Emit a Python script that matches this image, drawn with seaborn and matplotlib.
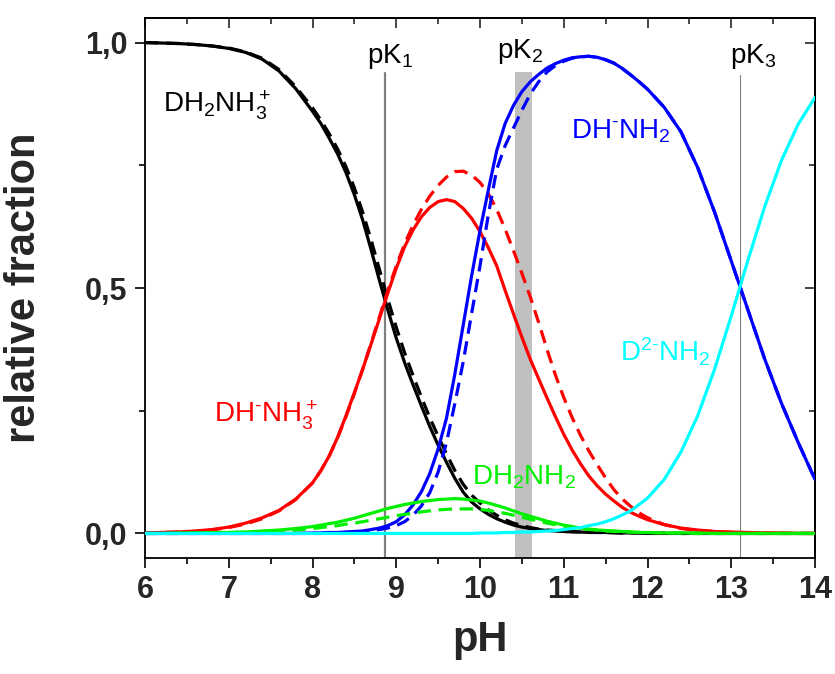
import numpy as np
import pandas as pd
import matplotlib
matplotlib.use("Agg")
import matplotlib.pyplot as plt
from matplotlib.ticker import MultipleLocator, FixedLocator
import seaborn as sns

# ---------------- data ----------------
pH = [6.0, 6.2, 6.4, 6.6, 6.8, 7.0, 7.2, 7.4, 7.6, 7.8,
      8.0, 8.1, 8.2, 8.3, 8.4, 8.5, 8.6, 8.7, 8.8, 8.9,
      9.0, 9.1, 9.2, 9.3, 9.4, 9.5, 9.6, 9.7, 9.8, 9.9,
      10.0, 10.1, 10.2, 10.3, 10.4, 10.5, 10.6, 10.7, 10.8, 10.9,
      11.0, 11.1, 11.2, 11.3, 11.4, 11.5, 11.6, 11.7, 11.8, 11.9,
      12.0, 12.2, 12.4, 12.6, 12.8, 13.0, 13.2, 13.4, 13.6, 13.8, 14.0]

black_solid = [1.000, 0.999, 0.998, 0.996, 0.993, 0.988, 0.980, 0.966, 0.942, 0.906,
               0.860, 0.835, 0.805, 0.773, 0.735, 0.690, 0.638, 0.578, 0.515, 0.455,
               0.398, 0.348, 0.303, 0.260, 0.218, 0.180, 0.145, 0.112, 0.084, 0.064,
               0.050, 0.039, 0.030, 0.023, 0.017, 0.013, 0.010, 0.008, 0.006, 0.005,
               0.004, 0.003, 0.003, 0.002, 0.002, 0.002, 0.001, 0.001, 0.001, 0.001,
               0.000, 0.000, 0.000, 0.000, 0.000, 0.000, 0.000, 0.000, 0.000, 0.000, 0.000]
black_dash = [1.000, 0.999, 0.998, 0.996, 0.993, 0.989, 0.981, 0.968, 0.945, 0.910,
              0.867, 0.842, 0.814, 0.783, 0.747, 0.704, 0.654, 0.598, 0.537, 0.477,
              0.420, 0.368, 0.322, 0.278, 0.236, 0.198, 0.162, 0.128, 0.100, 0.078,
              0.062, 0.048, 0.037, 0.028, 0.021, 0.016, 0.012, 0.009, 0.007, 0.006,
              0.005, 0.004, 0.003, 0.003, 0.002, 0.002, 0.002, 0.001, 0.001, 0.001,
              0.001, 0.001, 0.000, 0.000, 0.000, 0.000, 0.000, 0.000, 0.000, 0.000, 0.000]
red_solid = [0.001, 0.002, 0.003, 0.005, 0.008, 0.013, 0.021, 0.032, 0.047, 0.070,
             0.103, 0.128, 0.158, 0.196, 0.240, 0.287, 0.335, 0.386, 0.438, 0.490,
             0.540, 0.584, 0.618, 0.645, 0.664, 0.676, 0.680, 0.676, 0.662, 0.642,
             0.615, 0.582, 0.545, 0.495, 0.447, 0.400, 0.355, 0.315, 0.276, 0.238,
             0.202, 0.170, 0.142, 0.117, 0.097, 0.080, 0.066, 0.053, 0.043, 0.035,
             0.028, 0.018, 0.011, 0.007, 0.004, 0.003, 0.002, 0.001, 0.001, 0.000, 0.000]
red_dash = [0.001, 0.002, 0.003, 0.004, 0.007, 0.012, 0.019, 0.030, 0.046, 0.069,
            0.103, 0.128, 0.158, 0.195, 0.238, 0.285, 0.335, 0.388, 0.442, 0.495,
            0.545, 0.590, 0.628, 0.660, 0.687, 0.709, 0.726, 0.737, 0.738, 0.730,
            0.715, 0.692, 0.660, 0.620, 0.576, 0.530, 0.482, 0.430, 0.375, 0.323,
            0.277, 0.236, 0.200, 0.168, 0.140, 0.113, 0.089, 0.070, 0.055, 0.042,
            0.032, 0.018, 0.010, 0.006, 0.004, 0.002, 0.001, 0.001, 0.000, 0.000, 0.000]
green_solid = [0.000, 0.000, 0.001, 0.001, 0.002, 0.002, 0.003, 0.005, 0.007, 0.010,
               0.014, 0.017, 0.020, 0.023, 0.027, 0.031, 0.036, 0.041, 0.046, 0.051,
               0.055, 0.059, 0.062, 0.065, 0.067, 0.069, 0.070, 0.071, 0.070, 0.068,
               0.066, 0.062, 0.057, 0.052, 0.046, 0.040, 0.035, 0.030, 0.025, 0.021,
               0.017, 0.014, 0.011, 0.009, 0.007, 0.006, 0.005, 0.004, 0.003, 0.002,
               0.002, 0.001, 0.001, 0.001, 0.000, 0.000, 0.000, 0.000, 0.000, 0.000, 0.000]
green_dash = [0.000, 0.000, 0.000, 0.001, 0.001, 0.002, 0.002, 0.003, 0.005, 0.007,
              0.010, 0.012, 0.014, 0.016, 0.019, 0.021, 0.024, 0.027, 0.030, 0.033,
              0.036, 0.039, 0.041, 0.044, 0.046, 0.048, 0.049, 0.050, 0.050, 0.050,
              0.049, 0.047, 0.044, 0.041, 0.037, 0.033, 0.029, 0.025, 0.021, 0.018,
              0.015, 0.012, 0.010, 0.008, 0.007, 0.005, 0.004, 0.004, 0.003, 0.002,
              0.002, 0.001, 0.001, 0.000, 0.000, 0.000, 0.000, 0.000, 0.000, 0.000, 0.000]
blue_solid = [0.000, 0.000, 0.000, 0.000, 0.000, 0.000, 0.000, 0.000, 0.000, 0.000,
              0.001, 0.001, 0.002, 0.002, 0.003, 0.004, 0.005, 0.008, 0.011, 0.016,
              0.024, 0.038, 0.058, 0.085, 0.122, 0.172, 0.235, 0.325, 0.425, 0.525,
              0.617, 0.700, 0.780, 0.835, 0.872, 0.900, 0.920, 0.935, 0.948, 0.957,
              0.964, 0.969, 0.971, 0.972, 0.970, 0.965, 0.958, 0.947, 0.934, 0.920,
              0.905, 0.868, 0.818, 0.745, 0.655, 0.555, 0.455, 0.355, 0.265, 0.185, 0.110]
blue_dash = [0.000, 0.000, 0.000, 0.000, 0.000, 0.000, 0.000, 0.000, 0.000, 0.000,
             0.000, 0.000, 0.001, 0.001, 0.002, 0.003, 0.004, 0.006, 0.008, 0.011,
             0.016, 0.024, 0.037, 0.056, 0.083, 0.125, 0.185, 0.265, 0.350, 0.448,
             0.545, 0.650, 0.742, 0.790, 0.826, 0.862, 0.895, 0.920, 0.940, 0.953,
             0.962, 0.968, 0.971, 0.972, 0.970, 0.965, 0.958, 0.947, 0.934, 0.920,
             0.905, 0.868, 0.818, 0.745, 0.655, 0.555, 0.455, 0.355, 0.265, 0.185, 0.110]
cyan_solid = [0.000, 0.000, 0.000, 0.000, 0.000, 0.000, 0.000, 0.000, 0.000, 0.000,
              0.000, 0.000, 0.000, 0.000, 0.000, 0.000, 0.000, 0.000, 0.000, 0.000,
              0.000, 0.000, 0.000, 0.000, 0.000, 0.000, 0.000, 0.000, 0.000, 0.000,
              0.001, 0.001, 0.001, 0.002, 0.002, 0.003, 0.003, 0.004, 0.005, 0.006,
              0.008, 0.010, 0.012, 0.016, 0.019, 0.024, 0.030, 0.038, 0.046, 0.059,
              0.072, 0.110, 0.166, 0.240, 0.334, 0.443, 0.557, 0.666, 0.760, 0.834, 0.888]

pK1 = 8.87
pK2_band = (10.42, 10.62)
pK3 = 13.11

x_ticks = [6, 7, 8, 9, 10, 11, 12, 13, 14]
y_ticks = [0.0, 0.5, 1.0]
y_ticklabels = ["0,0", "0,5", "1,0"]

# ---------------- style ----------------
sns.set_theme(style="white")
plt.rcParams["font.family"] = ["Liberation Sans", "DejaVu Sans"]
plt.rcParams["mathtext.fontset"] = "custom"
plt.rcParams["mathtext.rm"] = "Liberation Sans"
plt.rcParams["mathtext.it"] = "Liberation Sans:italic"
plt.rcParams["mathtext.bf"] = "Liberation Sans:bold"

fig = plt.figure(figsize=(8.35, 6.74), dpi=100)
ax = fig.add_axes([145 / 835, 1 - 558 / 674, 670 / 835, 540 / 674])

ylo, yhi = -0.05, 1.05
def yfrac(v):
    return (v - ylo) / (yhi - ylo)

# reference markers
ax.axvspan(pK2_band[0], pK2_band[1], ymin=0, ymax=yfrac(0.94), color="#C0C0C0", lw=0, zorder=1)
ax.axvline(pK1, ymin=0, ymax=yfrac(0.937), color="#808080", lw=1.6, zorder=1)
ax.axvline(pK3, ymin=0, ymax=yfrac(0.933), color="#808080", lw=0.8, zorder=1)

series = [
    ("black_solid", black_solid, "black", "solid"),
    ("black_dash", black_dash, "black", "dash"),
    ("red_solid", red_solid, "#FF0000", "solid"),
    ("red_dash", red_dash, "#FF0000", "dash"),
    ("blue_dash", blue_dash, "#0000FF", "dash"),
    ("blue_solid", blue_solid, "#0000FF", "solid"),
    ("green_solid", green_solid, "#00F000", "solid"),
    ("green_dash", green_dash, "#00F000", "dash"),
    ("cyan_solid", cyan_solid, "#00FFFF", "solid"),
]
frames = []
for name, vals, col, kind in series:
    frames.append(pd.DataFrame({"pH": pH, "fraction": vals, "series": name}))
df = pd.concat(frames, ignore_index=True)

for i, (name, vals, col, kind) in enumerate(series):
    sub = df[df["series"] == name]
    ls = "-" if kind == "solid" else (0, (4.2, 2.4))
    sns.lineplot(data=sub, x="pH", y="fraction", color=col, lw=2.3,
                 linestyle=ls, ax=ax, zorder=3 + i, legend=False)

ax.set_xlim(6, 14)
ax.set_ylim(ylo, yhi)

# ticks
ax.xaxis.set_major_locator(FixedLocator(x_ticks))
ax.xaxis.set_minor_locator(MultipleLocator(0.5))
ax.yaxis.set_major_locator(FixedLocator(y_ticks))
ax.yaxis.set_minor_locator(MultipleLocator(0.25))
ax.set_xticklabels([str(t) for t in x_ticks], fontsize=22, fontweight="bold")
ax.set_yticklabels(y_ticklabels, fontsize=22, fontweight="bold")
ax.tick_params(axis="both", which="major", direction="out", length=7.5, width=1.2,
               color="black", pad=5, top=False, right=False, bottom=True, left=True)
ax.tick_params(axis="both", which="minor", direction="out", length=4, width=1.2,
               color="black", top=False, right=False, bottom=True, left=True)

secx = ax.secondary_xaxis("top")
secx.xaxis.set_major_locator(FixedLocator(x_ticks))
secx.xaxis.set_minor_locator(MultipleLocator(0.5))
secx.tick_params(axis="x", which="major", direction="in", length=7.5, width=1.2, labeltop=False)
secx.tick_params(axis="x", which="minor", direction="in", length=4, width=1.2)
secy = ax.secondary_yaxis("right")
secy.yaxis.set_major_locator(FixedLocator(y_ticks))
secy.yaxis.set_minor_locator(MultipleLocator(0.25))
secy.tick_params(axis="y", which="major", direction="in", length=7.5, width=1.2, labelright=False)
secy.tick_params(axis="y", which="minor", direction="in", length=4, width=1.2)
for s in list(ax.spines.values()) + list(secx.spines.values()) + list(secy.spines.values()):
    s.set_color("black")
    s.set_linewidth(1.3)

ax.set_xlabel("pH", fontsize=30, fontweight="bold")
ax.set_ylabel("relative fraction", fontsize=30, fontweight="bold")
ax.xaxis.set_label_coords(0.5, -0.115)
ax.yaxis.set_label_coords(-0.15, 0.5)

# annotations
fs = 20
ax.text(6.215, 0.857, r"$\mathrm{DH_2NH_3^+}$", color="black", fontsize=fs, ha="left", va="baseline")
ax.text(6.82, 0.227, r"$\mathrm{DH^{\text{-}}NH_3^+}$", color="#FF0000", fontsize=fs, ha="left", va="baseline")
ax.text(9.91, 0.099, r"$\mathrm{DH_2NH_2}$", color="#00F000", fontsize=fs, ha="left", va="baseline")
ax.text(11.09, 0.804, r"$\mathrm{DH^{\text{-}}NH_2}$", color="#0000FF", fontsize=fs, ha="left", va="baseline")
ax.text(11.67, 0.351, r"$\mathrm{D^{2\text{-}}NH_2}$", color="#00FFFF", fontsize=fs, ha="left", va="baseline")
ax.text(8.65, 0.959, r"$\mathrm{pK_1}$", color="black", fontsize=fs, ha="left", va="baseline")
ax.text(10.20, 0.969, r"$\mathrm{pK_2}$", color="black", fontsize=fs, ha="left", va="baseline")
ax.text(12.98, 0.959, r"$\mathrm{pK_3}$", color="black", fontsize=fs, ha="left", va="baseline")

fig.savefig("out.png", dpi=100)
